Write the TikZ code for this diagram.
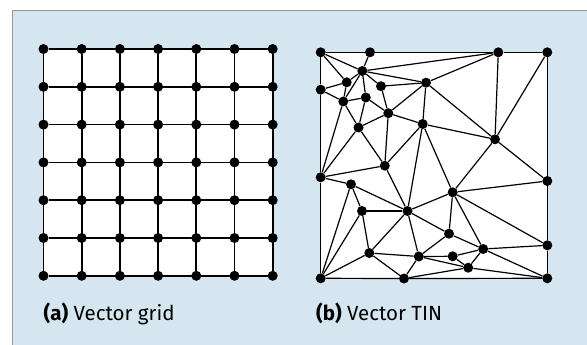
\documentclass[tikz,border=0pt]{standalone}
\usepackage{fontspec}
\setmainfont{Fira Sans}
\usetikzlibrary{positioning}
\definecolor{panelblue}{RGB}{213,230,240}
\definecolor{framegray}{RGB}{150,150,150}

\begin{document}
\begin{tikzpicture}[
  x=1pt,y=-1pt,
  dot/.style={circle,fill=black,inner sep=0pt,minimum size=10pt},
  gridline/.style={line width=1.8pt},
  tinline/.style={line width=1.2pt},
  caption/.style={anchor=base west,inner sep=0pt,font=\fontsize{20.5}{24}\selectfont}
]
\useasboundingbox (0,0) rectangle (587,345);
% panel
\fill[panelblue] (12.5,10.5) rectangle (587,345);
\draw[framegray,line width=1pt] (12.5,345) |- (587,10.5);
\fill[white] (43.5,49) rectangle (272.7,275.8);
\fill[white] (320.7,52.3) rectangle (547.3,278.3);

% (a) vector grid
\foreach \i in {0,...,6}
  \foreach \j in {0,...,6}
    \node[dot] (g\i\j) at ({43.5+38.2*\i},{49+37.8*\j}) {};
\foreach \i in {0,...,6} {
  \draw[gridline] (g\i0) -- (g\i6);
  \draw[gridline] (g0\i) -- (g6\i);
}

% (b) vector TIN
\foreach \n/\x/\y in {1/320.7/52.3, 2/370/52.3, 3/498.3/52.3, 4/547.3/52.3,
    5/362.3/71, 6/346.7/82.3, 7/320.7/89.7, 8/381/86.2, 9/426/82.7,
    10/343.3/101.5, 11/365.8/97.5, 12/388.3/113.2, 13/422.7/124,
    14/358.5/127.5, 15/495/139.3, 16/384.8/165.7, 17/320.7/177.3,
    18/351/184.3, 19/547.3/181, 20/452.7/192.3, 21/362/211, 22/407.5/211,
    23/449/233.7, 24/547.3/245.3, 25/483.2/249, 26/369.3/253,
    27/418.8/256.5, 28/452.7/256.3, 29/468.2/267.7, 30/320.7/278.3,
    31/404/278.5, 32/547.3/278.3}
  \node[dot] (t\n) at (\x,\y) {};
\foreach \a/\b in {1/2, 2/3, 3/4, 4/19, 19/24, 24/32, 32/31, 31/30, 30/17,
    17/7, 7/1, 1/5, 1/6, 2/5, 5/3, 5/9, 5/8, 5/6, 5/10, 5/11, 6/7, 6/10,
    7/10, 10/11, 10/14, 10/17, 11/12, 11/14, 8/9, 8/12, 9/3, 9/12, 9/13,
    9/15, 12/13, 12/14, 12/16, 13/15, 13/16, 13/22, 13/20, 14/16, 14/17,
    15/3, 15/4, 15/19, 15/20, 16/17, 16/22, 17/18, 18/22, 18/21, 18/30,
    19/20, 20/22, 20/23, 20/25, 20/24, 21/22, 21/26, 21/30, 22/23, 22/27,
    22/26, 23/25, 23/27, 24/25, 25/28, 25/29, 25/32, 26/27, 26/31, 26/30,
    27/28, 27/29, 27/31, 28/29, 29/31, 29/32}
  \draw[tinline] (t\a) -- (t\b);

% captions
\node[caption] (capa) at (43.5,320) {\textbf{(a)} Vector grid};
\node[caption] (capb) at (316,320) {\textbf{(b)} Vector TIN};
\end{tikzpicture}
\end{document}
